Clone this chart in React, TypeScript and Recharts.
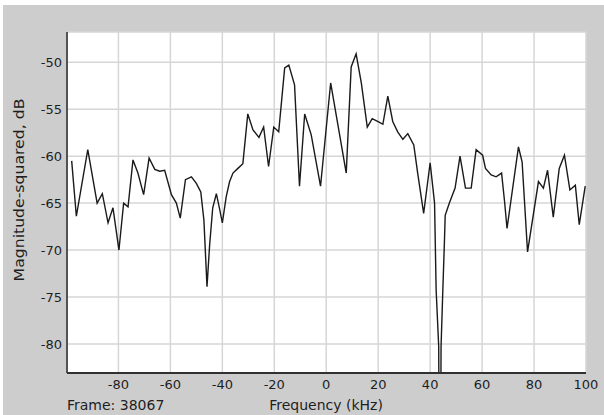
import { CartesianGrid, Line, LineChart, XAxis, YAxis } from 'recharts';

// frequency bins (kHz) and magnitude-squared (dB)
const freqKHz = [
  -98.0, -96.2, -91.8, -88.2, -86.2, -84.0, -82.1, -79.8, -78.0, -76.3,
  -74.4, -72.5, -70.3, -68.2, -66.0, -64.1, -62.2, -59.6, -57.7, -56.2,
  -54.2, -51.9, -50.0, -48.3, -47.1, -45.9, -44.9, -43.7, -42.3, -41.0,
  -40.0, -38.5, -37.2, -35.9, -34.0, -32.1, -30.2, -28.2, -25.9, -24.1,
  -22.2, -20.2, -18.3, -16.0, -14.4, -12.2, -10.3, -8.3, -5.8, -2.2,
  1.7, 7.7, 9.6, 11.5, 13.5, 15.8, 17.7, 20.5, 21.8, 23.7,
  25.6, 27.5, 29.5, 31.4, 33.7, 35.2, 37.5, 40.0, 41.7, 42.3,
  43.3, 43.8, 44.2, 44.8, 45.5, 45.8, 47.4, 49.6, 51.5, 53.6,
  55.8, 57.7, 60.2, 61.3, 63.5, 65.4, 67.5, 68.6, 69.6, 74.0,
  75.4, 77.5, 81.7, 83.6, 85.2, 87.4, 89.7, 91.7, 93.8, 95.9,
  97.4, 99.7,
];

const magDb = [
  -60.5, -66.4, -59.3, -65.0, -64.0, -67.1, -65.5, -70.0, -65.0, -65.4,
  -60.4, -61.8, -64.1, -60.2, -61.4, -61.6, -61.5, -64.1, -65.0, -66.6,
  -62.5, -62.2, -62.9, -63.8, -66.8, -73.9, -69.5, -65.5, -64.0, -65.7,
  -67.1, -64.3, -62.7, -61.8, -61.3, -60.8, -55.5, -57.2, -58.0, -56.9,
  -61.1, -56.9, -57.4, -50.6, -50.3, -52.4, -63.2, -55.5, -57.7, -63.2,
  -52.2, -61.8, -50.5, -49.1, -52.2, -56.9, -56.0, -56.4, -56.6, -53.6,
  -56.3, -57.4, -58.2, -57.6, -58.8, -61.8, -66.1, -60.7, -65.0, -74.2,
  -80.3, -110.0, -80.3, -75.0, -69.1, -66.3, -65.0, -63.4, -60.0, -63.4,
  -63.4, -59.3, -59.9, -61.3, -62.0, -62.2, -61.8, -64.7, -67.7, -59.0,
  -60.6, -70.2, -62.7, -63.4, -61.5, -66.5, -61.3, -59.9, -63.6, -63.1,
  -67.3, -63.2,
];

const xTicks = [-80, -60, -40, -20, 0, 20, 40, 60, 80, 100];
const yTicks = [-80, -75, -70, -65, -60, -55, -50];
const frameText = 'Frame: 38067';

const data = freqKHz.map((f, i) => ({ f, m: magDb[i] }));

const font = '"DejaVu Sans", sans-serif';
const tickStyle = { fontSize: 13, fill: '#1e1e1e', fontFamily: font };
const textColor = '#1e1e1e';

export default function App() {
  return (
    <div style={{ position: 'absolute', left: 0, top: 0, width: 604, height: 415, background: '#fff', overflow: 'hidden' }}>
      <div style={{ position: 'absolute', left: 3, top: 5, right: 0, bottom: 0, background: '#cdcdcd' }} />
      <div style={{ position: 'absolute', left: 0, top: 0 }}>
        <LineChart width={604} height={415} data={data} margin={{ top: 32, right: 18, bottom: 0, left: 0 }}>
          <CartesianGrid fill="#ffffff" stroke="#d6d6d6" strokeWidth={1.5} />
          <XAxis
            dataKey="f"
            type="number"
            domain={[-99.8, 100]}
            ticks={xTicks}
            allowDataOverflow
            height={42}
            tickLine={false}
            tickSize={4}
            tickMargin={3}
            axisLine={{ stroke: '#303030', strokeWidth: 2 }}
            tick={tickStyle}
          />
          <XAxis
            xAxisId="top"
            orientation="top"
            dataKey="f"
            type="number"
            domain={[-99.8, 100]}
            allowDataOverflow
            height={0}
            tick={false}
            tickLine={false}
            axisLine={{ stroke: '#303030', strokeWidth: 2 }}
          />
          <YAxis
            type="number"
            domain={[-83.1, -46.77]}
            ticks={yTicks}
            allowDataOverflow
            width={67}
            tickLine={false}
            tickSize={3}
            tickMargin={2}
            axisLine={{ stroke: '#303030', strokeWidth: 1.6 }}
            tick={tickStyle}
          />
          <Line
            type="linear"
            dataKey="m"
            stroke="#1a1a1a"
            strokeWidth={1.4}
            dot={false}
            isAnimationActive={false}
          />
        </LineChart>
      </div>
      <div style={{ position: 'absolute', left: 67, top: 397, fontFamily: font, fontSize: 14, color: textColor, whiteSpace: 'nowrap' }}>
        {frameText}
      </div>
      <div style={{ position: 'absolute', left: 326, top: 397, transform: 'translateX(-50%)', fontFamily: font, fontSize: 14, color: textColor, whiteSpace: 'nowrap' }}>
        Frequency (kHz)
      </div>
      <div style={{ position: 'absolute', left: 19, top: 190, transform: 'translate(-50%, -50%) rotate(-90deg) scale(1.12, 1)', fontFamily: font, fontSize: 14, color: textColor, whiteSpace: 'nowrap' }}>
        Magnitude-squared, dB
      </div>
    </div>
  );
}
